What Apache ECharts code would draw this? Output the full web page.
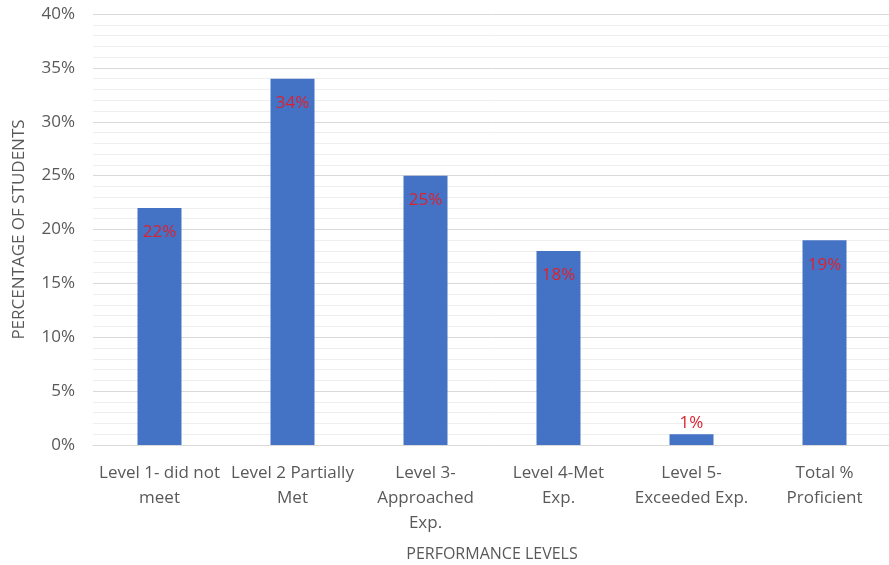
<!DOCTYPE html>
<html>
<head>
<meta charset="utf-8">
<script src="https://cdn.jsdelivr.net/npm/echarts@6/dist/echarts.min.js"></script>
<style>html,body{margin:0;padding:0;background:#fff}#c{width:889px;height:565px}</style>
</head>
<body>
<div id="c"></div>
<script>
const categories = ["Level 1- did not\nmeet", "Level 2 Partially\nMet", "Level 3-\nApproached\nExp.", "Level 4-Met\nExp.", "Level 5-\nExceeded Exp.", "Total %\nProficient"];
const values = [22, 34, 25, 18, 1, 19];
const yTicks = [0, 5, 10, 15, 20, 25, 30, 35, 40];
const yTitle = "PERCENTAGE OF STUDENTS";
const xTitle = "PERFORMANCE LEVELS";

const FONT = "'Open Sans', 'Noto Sans', sans-serif";
const chart = echarts.init(document.getElementById('c'));
chart.setOption({
  animation: false,
  textStyle: { fontFamily: FONT },
  grid: { left: 93, right: -2, top: 14, bottom: 120, containLabel: false, outerBoundsMode: 'none' },
  xAxis: {
    type: 'category',
    data: categories,
    axisLine: { show: true, lineStyle: { color: '#d9d9d9', width: 1 } },
    axisTick: { show: false },
    axisLabel: { color: '#595959', fontSize: 17, lineHeight: 25, margin: 16, interval: 0, fontFamily: FONT },
    name: xTitle,
    nameLocation: 'middle',
    nameGap: 101,
    nameTextStyle: { color: '#595959', fontSize: 16, fontFamily: FONT }
  },
  yAxis: {
    type: 'value',
    min: yTicks[0],
    max: yTicks[yTicks.length - 1],
    interval: 5,
    splitNumber: 8,
    axisLine: { show: false },
    axisTick: { show: false },
    axisLabel: { color: '#595959', fontSize: 17, margin: 18, formatter: v => v + '%', fontFamily: FONT },
    splitLine: { show: true, lineStyle: { color: '#d9d9d9', width: 1 } },
    minorTick: { show: false, splitNumber: 5 },
    minorSplitLine: { show: true, lineStyle: { color: '#eeeeee', width: 1 } },
    name: yTitle,
    nameLocation: 'middle',
    nameGap: 65,
    nameTextStyle: { color: '#595959', fontSize: 17, fontFamily: FONT }
  },
  series: [{
    type: 'bar',
    data: values.map(v => ({
      value: v,
      label: v < 3 ? { position: 'top', distance: 3 } : { position: 'insideTop', distance: 16 }
    })),
    barWidth: 44,
    itemStyle: { color: '#4472c4' },
    label: {
      show: true,
      color: '#dc2231',
      fontSize: 17,
      fontFamily: FONT,
      formatter: p => p.value + '%'
    }
  }]
});
</script>
</body>
</html>
